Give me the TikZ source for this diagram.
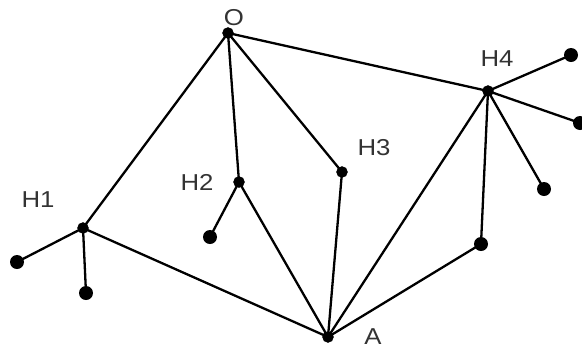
\documentclass[tikz,border=0pt]{standalone}
\usepackage{fontspec}
\setmainfont{Liberation Sans}
\begin{document}
\begin{tikzpicture}[x=1pt,y=-1pt,
  hub/.style={circle,fill=black,draw=black,inner sep=0pt,minimum size=11pt},
  leaf/.style={circle,fill=black,inner sep=0pt,minimum size=14pt},
  lbl/.style={font=\fontsize{23}{23}\selectfont,text=black!80,inner sep=0pt,xscale=1.12},
  edge/.style={line width=2.3pt,black}]
\useasboundingbox (0,0) rectangle (582,349);
% nodes
\node[hub] (O) at (228,33) {};
\node[hub] (H1) at (83,228) {};
\node[hub] (H2) at (239,182) {};
\node[hub] (H3) at (342,172) {};
\node[hub] (H4) at (488,91) {};
\node[hub] (A) at (328,337) {};
\node[leaf] (M) at (481,244) {};
\node[leaf] (l1) at (17,262) {};
\node[leaf] (l2) at (86,293) {};
\node[leaf] (l3) at (210,237) {};
\node[leaf] (l4) at (571,55) {};
\node[leaf] (l5) at (580,123) {};
\node[leaf] (l6) at (544,189) {};
% labels
\node[lbl] (tO) at (234,18) {O};
\node[lbl] (tH1) at (38,200) {H1};
\node[lbl] (tH2) at (197,182) {H2};
\node[lbl] (tH3) at (374,148) {H3};
\node[lbl] (tH4) at (497,59) {H4};
\node[lbl] (tA) at (373,337) {A};
% edges
\draw[edge] (O.center) -- (H1.center);
\draw[edge] (O.center) -- (H2.center);
\draw[edge] (O.center) -- (H3.center);
\draw[edge] (O.center) -- (H4.center);
\draw[edge] (H1.center) -- (A.center);
\draw[edge] (H2.center) -- (A.center);
\draw[edge] (H3.center) -- (A.center);
\draw[edge] (H4.center) -- (A.center);
\draw[edge] (H4.center) -- (M.center);
\draw[edge] (M.center) -- (A.center);
\draw[edge] (H1.center) -- (l1.center);
\draw[edge] (H1.center) -- (l2.center);
\draw[edge] (H2.center) -- (l3.center);
\draw[edge] (H4.center) -- (l4.center);
\draw[edge] (H4.center) -- (l5.center);
\draw[edge] (H4.center) -- (l6.center);
\end{tikzpicture}
\end{document}
